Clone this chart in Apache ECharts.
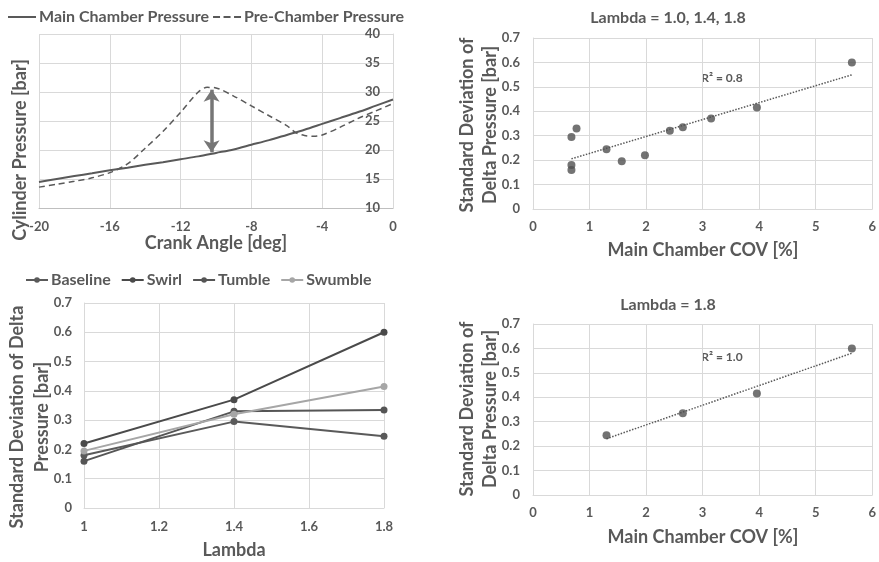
<!DOCTYPE html>
<html>
<head>
<meta charset="utf-8">
<script src="https://cdn.jsdelivr.net/npm/echarts@6/dist/echarts.min.js"></script>
<style>
  html, body { margin: 0; padding: 0; background: #ffffff; }
  #chart { width: 879px; height: 562px; }
</style>
</head>
<body>
<div id="chart"></div>
<script>
// Cylinder pressure traces around ignition (crank angle in deg, pressure in bar)
const crankAngle   = [-20, -19, -18, -17, -16, -15, -14, -13, -12, -11, -10, -9, -8, -7, -6, -5, -4, -3, -2, -1, 0];
const mainPressure = [14.5, 15.0, 15.5, 16.0, 16.5, 16.95, 17.45, 17.9, 18.4, 18.9, 19.5, 20.1, 20.9, 21.7, 22.6, 23.5, 24.5, 25.5, 26.5, 27.6, 28.7];
const preAngle     = [-20, -19, -18, -17, -16, -15, -14, -13, -12, -11, -10.5, -10, -9, -8, -7, -6, -5.5, -5, -4.5, -4, -3, -2, -1, 0];
const prePressure  = [13.6, 14.1, 14.6, 15.2, 16.1, 17.6, 20.3, 23.2, 26.5, 30.0, 30.8, 30.7, 29.3, 27.6, 25.9, 24.2, 23.0, 22.5, 22.35, 22.6, 23.9, 25.4, 26.7, 28.0];
// Peak pressure difference marker
const deltaAngle = -10.25;
const deltaRange = [19.6, 30.4];

// Standard deviation of delta pressure [bar] per configuration at each lambda
const lambdaValues = [1.0, 1.4, 1.8];
const baselineSd = [0.18, 0.295, 0.245];
const swirlSd    = [0.22, 0.37, 0.60];
const tumbleSd   = [0.16, 0.33, 0.335];
const swumbleSd  = [0.195, 0.32, 0.415];
// Main chamber COV [%] for the same runs
const baselineCov = [0.68, 0.68, 1.30];
const swirlCov    = [1.98, 3.15, 5.64];
const tumbleCov   = [0.68, 0.77, 2.65];
const swumbleCov  = [1.57, 2.42, 3.96];

const TXT = '#595959';
const GRID = '#d9d9d9';
const FONT = 'Lato';

const configs = [
  { name: 'Baseline', sd: baselineSd, cov: baselineCov, color: '#5a5a5a' },
  { name: 'Swirl',    sd: swirlSd,    cov: swirlCov,    color: '#4a4a4a' },
  { name: 'Tumble',   sd: tumbleSd,   cov: tumbleCov,   color: '#555555' },
  { name: 'Swumble',  sd: swumbleSd,  cov: swumbleCov,  color: '#a6a6a6' }
];

const zip = (xs, ys) => xs.map((x, i) => [x, ys[i]]);

// All runs, and only the lambda = 1.8 runs
const allPoints = [];
const lambda18Points = [];
configs.forEach(c => {
  c.cov.forEach((x, i) => {
    allPoints.push([x, c.sd[i]]);
    if (lambdaValues[i] === 1.8) lambda18Points.push([x, c.sd[i]]);
  });
});

// Least-squares linear fit with coefficient of determination
function linearFit(pts) {
  const n = pts.length;
  const mx = pts.reduce((s, p) => s + p[0], 0) / n;
  const my = pts.reduce((s, p) => s + p[1], 0) / n;
  let sxy = 0, sxx = 0, syy = 0;
  pts.forEach(p => { sxy += (p[0] - mx) * (p[1] - my); sxx += (p[0] - mx) ** 2; syy += (p[1] - my) ** 2; });
  const slope = sxy / sxx;
  const icpt = my - slope * mx;
  const xs = pts.map(p => p[0]);
  const x0 = Math.min(...xs), x1 = Math.max(...xs);
  return { line: [[x0, icpt + slope * x0], [x1, icpt + slope * x1]], r2: (sxy * sxy) / (sxx * syy) };
}
const fitAll = linearFit(allPoints);
const fit18 = linearFit(lambda18Points);

const labelStyle = { color: TXT, fontFamily: FONT, fontWeight: 'bold', fontSize: 13 };
const splitStyle = { show: true, lineStyle: { color: GRID, width: 1 } };

function titleText(text, x, y, size, rotate) {
  return {
    type: 'text', x: x, y: y, rotation: rotate ? Math.PI / 2 : 0,
    style: { text: text, fill: TXT, font: 'bold ' + size + 'px ' + FONT, textAlign: 'center', textVerticalAlign: 'middle' }
  };
}

// Legend icons: solid stroke and three-dash stroke
const solidIcon = 'path://M0,0h28v2h-28z';
const dashIcon = 'path://M0,0h7v2h-7z M10.5,0h7v2h-7z M21,0h7v2h-7z';

const chart = echarts.init(document.getElementById('chart'));
chart.setOption({
  backgroundColor: '#ffffff',
  animation: false,
  title: [
    { text: 'Lambda = 1.0, 1.4, 1.8', left: 663, top: 5, textAlign: 'center',
      textStyle: { color: TXT, fontFamily: FONT, fontWeight: 'bold', fontSize: 16 } },
    { text: 'Lambda = 1.8', left: 663, top: 292, textAlign: 'center',
      textStyle: { color: TXT, fontFamily: FONT, fontWeight: 'bold', fontSize: 16 } }
  ],
  legend: [
    { data: [{ name: 'Main Chamber Pressure', icon: solidIcon }, { name: 'Pre-Chamber Pressure', icon: dashIcon }],
      left: 3, top: 4, itemWidth: 28, itemHeight: 2, itemGap: 4,
      textStyle: { color: TXT, fontFamily: FONT, fontWeight: 'bold', fontSize: 16, padding: [0, 0, 0, -2] } },
    { data: configs.map(c => c.name), left: 20, top: 267,
      itemWidth: 22, itemHeight: 7, itemGap: 10,
      textStyle: { color: TXT, fontFamily: FONT, fontWeight: 'bold', fontSize: 16, padding: [0, 0, 0, -2] } }
  ],
  grid: [
    { left: 39, top: 34, width: 354, height: 174 },
    { left: 84, top: 303, width: 300, height: 205 },
    { left: 533, top: 38, width: 340, height: 171 },
    { left: 533, top: 324, width: 340, height: 171 }
  ],
  xAxis: [
    { gridIndex: 0, type: 'value', min: -20, max: 0, interval: 4,
      axisLine: { lineStyle: { color: '#bfbfbf' } }, axisTick: { show: false },
      axisLabel: Object.assign({ margin: 12 }, labelStyle), splitLine: splitStyle },
    { gridIndex: 1, type: 'value', min: 1, max: 1.8, interval: 0.2,
      axisLine: { lineStyle: { color: GRID } }, axisTick: { show: false },
      axisLabel: Object.assign({ margin: 12 }, labelStyle), splitLine: splitStyle },
    { gridIndex: 2, type: 'value', min: 0, max: 6, interval: 1,
      axisLine: { lineStyle: { color: GRID } }, axisTick: { show: false },
      axisLabel: Object.assign({ margin: 11 }, labelStyle), splitLine: splitStyle },
    { gridIndex: 3, type: 'value', min: 0, max: 6, interval: 1,
      axisLine: { lineStyle: { color: GRID } }, axisTick: { show: false },
      axisLabel: Object.assign({ margin: 11 }, labelStyle), splitLine: splitStyle }
  ],
  yAxis: [
    { gridIndex: 0, type: 'value', position: 'right', min: 10, max: 40, interval: 5,
      axisLine: { show: true, lineStyle: { color: GRID } }, axisTick: { show: false },
      axisLabel: Object.assign({ inside: true, margin: 13 }, labelStyle), splitLine: splitStyle },
    { gridIndex: 1, type: 'value', min: 0, max: 0.7, interval: 0.1,
      axisLine: { show: true, lineStyle: { color: GRID } }, axisTick: { show: false },
      axisLabel: Object.assign({ margin: 12 }, labelStyle), splitLine: splitStyle },
    { gridIndex: 2, type: 'value', min: 0, max: 0.7, interval: 0.1,
      axisLine: { show: true, lineStyle: { color: GRID } }, axisTick: { show: false },
      axisLabel: Object.assign({ margin: 13 }, labelStyle), splitLine: splitStyle },
    { gridIndex: 3, type: 'value', min: 0, max: 0.7, interval: 0.1,
      axisLine: { show: true, lineStyle: { color: GRID } }, axisTick: { show: false },
      axisLabel: Object.assign({ margin: 13 }, labelStyle), splitLine: splitStyle }
  ],
  series: [
    { name: 'Main Chamber Pressure', type: 'line', xAxisIndex: 0, yAxisIndex: 0,
      data: zip(crankAngle, mainPressure), smooth: 0.3, symbol: 'none',
      lineStyle: { color: '#595959', width: 2 }, itemStyle: { color: '#595959' },
      markLine: {
        silent: true, symbol: ['arrow', 'arrow'], symbolSize: [12, 12],
        label: { show: false },
        lineStyle: { color: '#767676', width: 3.5, type: 'solid' },
        data: [[{ coord: [deltaAngle, deltaRange[0]] }, { coord: [deltaAngle, deltaRange[1]] }]]
      } },
    { name: 'Pre-Chamber Pressure', type: 'line', xAxisIndex: 0, yAxisIndex: 0,
      data: zip(preAngle, prePressure), smooth: 0.3, symbol: 'none',
      lineStyle: { color: '#595959', width: 1.5, type: [6, 4] }, itemStyle: { color: '#595959' } },
    ...configs.map(c => ({
      name: c.name, type: 'line', xAxisIndex: 1, yAxisIndex: 1,
      data: zip(lambdaValues, c.sd), symbol: 'circle', symbolSize: 7,
      lineStyle: { color: c.color, width: 2 }, itemStyle: { color: c.color }
    })),
    { name: 'All runs', type: 'scatter', xAxisIndex: 2, yAxisIndex: 2,
      data: allPoints, symbolSize: 8, itemStyle: { color: '#505050' } },
    { name: 'All runs fit', type: 'line', xAxisIndex: 2, yAxisIndex: 2,
      data: fitAll.line, symbol: 'none', z: 1,
      lineStyle: { color: '#595959', width: 1.5, type: 'dotted' } },
    { name: 'Lambda 1.8 runs', type: 'scatter', xAxisIndex: 3, yAxisIndex: 3,
      data: lambda18Points, symbolSize: 8, itemStyle: { color: '#505050' } },
    { name: 'Lambda 1.8 fit', type: 'line', xAxisIndex: 3, yAxisIndex: 3,
      data: fit18.line, symbol: 'none', z: 1,
      lineStyle: { color: '#595959', width: 1.5, type: 'dotted' } }
  ],
  graphic: [
    titleText('Cylinder Pressure [bar]', 20, 150, 18, true),
    titleText('Crank Angle [deg]', 216, 243, 18, false),
    titleText('Standard Deviation of Delta', 17, 417, 18, true),
    titleText('Pressure [bar]', 42, 417, 18, true),
    titleText('Lambda', 234, 550, 18, false),
    titleText('Standard Deviation of', 467, 125, 18, true),
    titleText('Delta Pressure [bar]', 490, 125, 18, true),
    titleText('Main Chamber COV [%]', 703, 250, 18, false),
    titleText('Standard Deviation of', 467, 409, 18, true),
    titleText('Delta Pressure [bar]', 490, 409, 18, true),
    titleText('Main Chamber COV [%]', 703, 537, 18, false),
    titleText('R\u00b2 = ' + fitAll.r2.toFixed(1), 722, 78, 12, false),
    titleText('R\u00b2 = ' + fit18.r2.toFixed(1), 722, 357, 12, false)
  ]
});
</script>
</body>
</html>
